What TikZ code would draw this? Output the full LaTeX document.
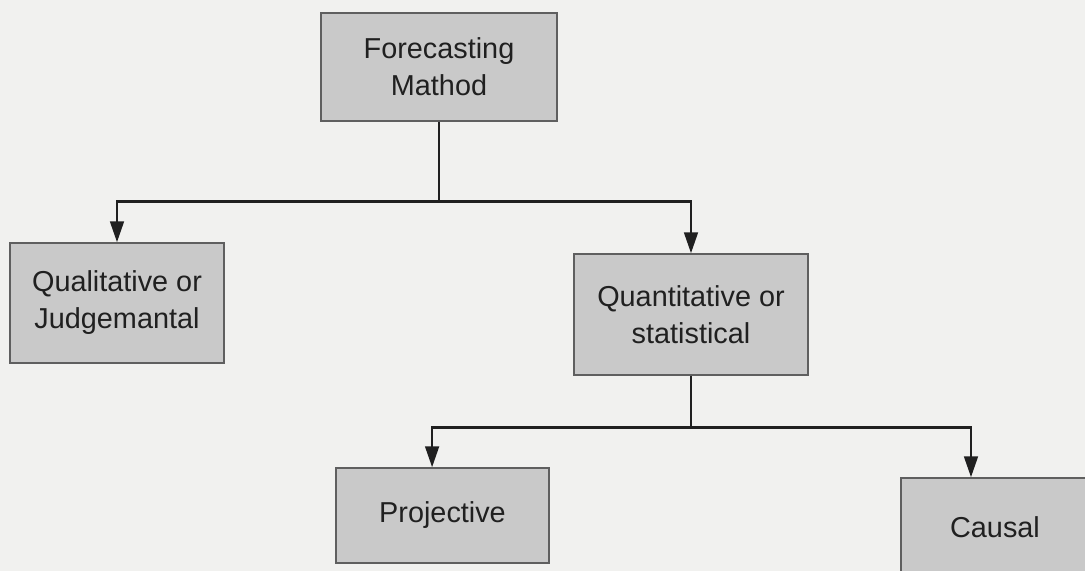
\documentclass[tikz,border=0pt]{standalone}
\usepackage{fontspec}
\setmainfont{Liberation Sans}
\usetikzlibrary{arrows.meta}
\definecolor{boxgray}{RGB}{201,201,201}
\definecolor{paper}{RGB}{241,241,239}
\definecolor{edgegray}{RGB}{95,95,95}
\definecolor{inkgray}{RGB}{32,32,32}
\tikzstyle{method-box}=[
rectangle,
draw=edgegray,
fill=boxgray,
line width=1pt,
align=center,
text=inkgray,
inner sep=0pt,
font=\fontsize{20.5}{26.3}\selectfont,
]

\begin{document}
\begin{tikzpicture}
        [x=0.025cm, y=-0.025cm, >={Triangle[length=5.2mm,width=3.4mm]}, line width=1.8pt, draw=inkgray]
        \path[use as bounding box, fill=paper] (0,0) rectangle (1085,571);

        \node[method-box, minimum width=5.9cm, minimum height=2.7cm] (fm) at (439,67) {Forecasting\\Mathod};
        \node[method-box, minimum width=5.35cm, minimum height=3cm] (ql) at (117,303) {Qualitative or\\Judgemantal};
        \node[method-box, minimum width=5.85cm, minimum height=3.025cm] (qn) at (691,314.5) {Quantitative or\\statistical};
        \node[method-box, minimum width=5.325cm, minimum height=2.375cm] (pj) at (442.5,515.5) {Projective};
        \node[method-box, minimum width=4.7cm, minimum height=2.45cm] (cs) at (995,527) {Causal};

        \path (fm.south) ++(0,80) coordinate (fm-split);
        \path (qn.south) ++(0,52) coordinate (qn-split);

        \draw (fm) -- (fm-split);
        \draw[->] (fm-split) -| (ql);
        \draw[->] (fm-split) -| (qn);
        \draw (qn) -- (qn-split);
        \draw[->] (qn-split) -| ([xshift=-0.26cm]pj.north);
        \draw[->] (qn-split) -| ([xshift=-0.6cm]cs.north);
      \end{tikzpicture}
\end{document}
